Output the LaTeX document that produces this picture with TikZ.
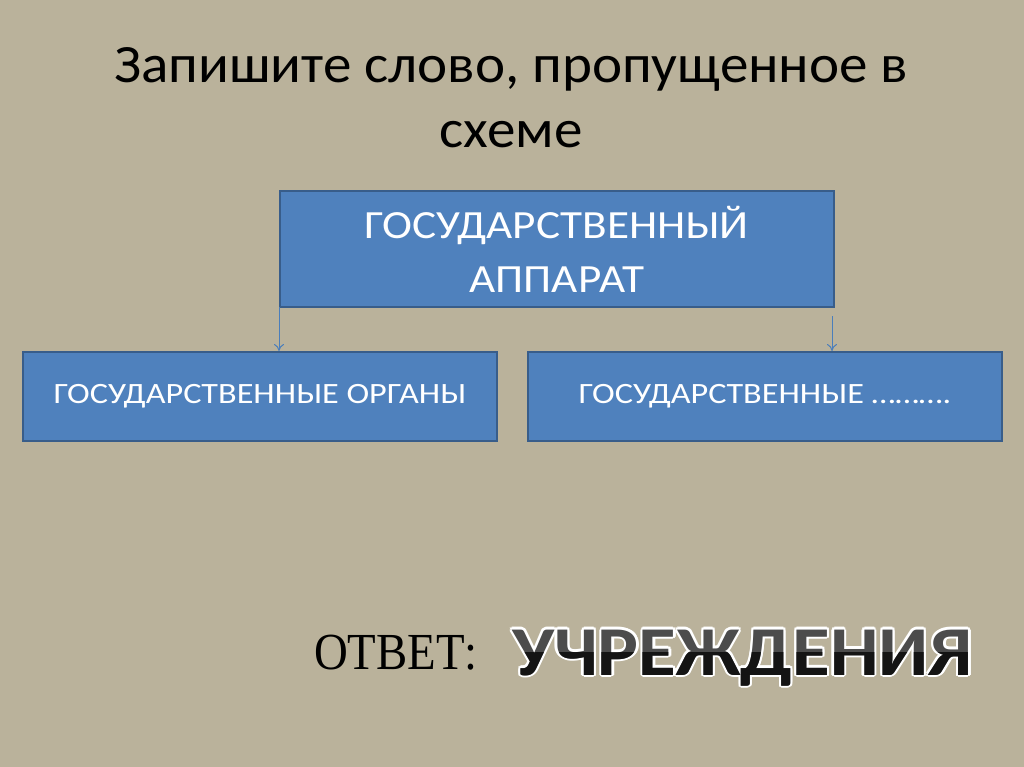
\documentclass[tikz,border=0pt]{standalone}
\usepackage{fontspec}
\usepackage{graphicx}
\usetikzlibrary{arrows.meta}
\setmainfont{Carlito}
\newfontfamily\tnr{Liberation Serif}
\begin{document}
\begin{tikzpicture}[x=1pt,y=-1pt,
  box/.style={draw=boxedge,line width=1.8pt,fill=boxfill,text=white,inner sep=0pt,anchor=north west},
  arr/.style={draw=arrowcol,line width=1pt,-{To[length=7pt,width=10pt]}},
  ans/.style={font=\bfseries\fontsize{70}{72}\selectfont,anchor=base west,inner sep=0pt},
]
\definecolor{bg}{HTML}{BAB29B}
\definecolor{boxfill}{HTML}{4F81BD}
\definecolor{boxedge}{HTML}{385D8A}
\definecolor{arrowcol}{HTML}{4A7EBB}
\fill[bg] (0,0) rectangle (1024,767);
\useasboundingbox (0,0) rectangle (1024,767);
% title
\node[font=\fontsize{54}{64}\selectfont,text=black,anchor=base,inner sep=0pt] (title1) at (511,83)
  {\scalebox{1.057}[1]{Запишите слово, пропущенное в}};
\node[font=\fontsize{54}{64}\selectfont,text=black,anchor=base,inner sep=0pt] (title2) at (511,148)
  {\scalebox{1.057}[1]{схеме}};
% boxes
\node[box,minimum width=554pt,minimum height=116pt,font=\fontsize{40}{54}\selectfont,align=center] (top) at (279,190)
  {\scalebox{1.13}[1]{ГОСУДАРСТВЕННЫЙ}\\\scalebox{1.13}[1]{АППАРАТ}};
\node[box,minimum width=474pt,minimum height=89pt,font=\fontsize{29.5}{32}\selectfont] (left) at (22,351)
  {\scalebox{1.16}[1]{ГОСУДАРСТВЕННЫЕ ОРГАНЫ}};
\node[box,minimum width=474pt,minimum height=89pt,font=\fontsize{29.5}{32}\selectfont] (right) at (527,351)
  {\scalebox{1.16}[1]{ГОСУДАРСТВЕННЫЕ ……….}};
% arrows
\coordinate (la) at (279,307);
\coordinate (ra) at (832,316);
\draw[arr] (la) -- (la |- left.north);
\draw[arr] (ra) -- (ra |- right.north);
% answer
\node[font=\tnr\fontsize{52}{54}\selectfont,anchor=base west,inner sep=0pt] (otv) at (314,669)
  {\scalebox{0.9}[1]{ОТВЕТ:}};
\foreach \a in {0,30,...,330}{
  \node[ans,text=white] at ([shift={(\a:2.2pt)}]512,675) {\scalebox{1.1}[1]{УЧРЕЖДЕНИЯ}};
}
\node[ans,text=black!70] (answer) at (512,675) {\scalebox{1.1}[1]{УЧРЕЖДЕНИЯ}};
\begin{scope}
\clip (500,652) rectangle (1000,700);
\node[ans,text=black!92] at (512,675) {\scalebox{1.1}[1]{УЧРЕЖДЕНИЯ}};
\end{scope}
\end{tikzpicture}
\end{document}
